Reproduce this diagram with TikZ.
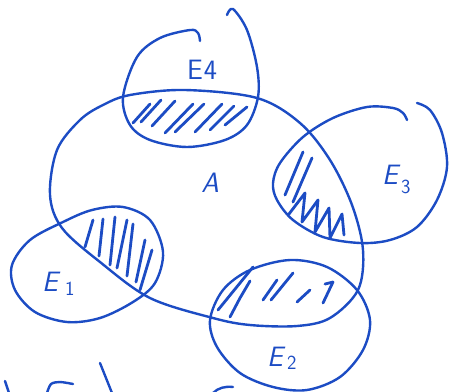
\documentclass[tikz,border=0pt]{standalone}
\usepackage{fontspec}
\definecolor{penblue}{RGB}{28,76,196}
\begin{document}
\begin{tikzpicture}[x=1pt,y=-1pt,
  ink/.style={draw=penblue, line width=2.4pt, line cap=round, line join=round},
  hatchline/.style={draw=penblue, line width=2.8pt, line cap=round, line join=round},
  lbl/.style={text=penblue, font=\sffamily\itshape\fontsize{28}{28}\selectfont, inner sep=0pt},
  sub/.style={text=penblue, font=\sffamily\fontsize{20}{20}\selectfont, inner sep=0pt}]
\fill[white] (0,0) rectangle (449,391);
\useasboundingbox (0,0) rectangle (449,391);

% big set A
\draw[ink] plot[smooth cycle, tension=0.55] coordinates {
  (50,195) (57,150) (80,120) (103,105) (130,95) (185,90) (257,98) (300,123)
  (330,160) (352,205) (363,250) (358,290) (330,318) (297,326) (250,325)
  (213,318) (150,298) (100,262) (62,228)};

% E4 (open at top)
\draw[ink] plot[smooth, tension=0.55] coordinates {
  (227,15) (233,9) (247,30) (257,67) (258,97) (247,125) (225,140) (187,147)
  (150,140) (130,125) (123,97) (137,57) (160,38) (190,30) (198,33) (200,41)};

% E3 (open at top)
\draw[ink] plot[smooth, tension=0.55] coordinates {
  (417,103) (430,110) (442,133) (447,167) (437,200) (417,227) (390,240)
  (360,243) (323,237) (293,220) (277,200) (273,183) (280,163) (303,137)
  (333,118) (367,107) (393,108) (403,113) (407,120)};

% E1
\draw[ink] plot[smooth cycle, tension=0.55] coordinates {
  (123,207) (150,220) (163,252) (155,283) (133,302) (100,318) (67,322)
  (35,312) (15,290) (12,265) (30,240) (63,222) (92,210)};

% E2
\draw[ink] plot[smooth cycle, tension=0.55] coordinates {
  (210,320) (223,290) (250,270) (290,260) (327,267) (357,290) (370,320)
  (363,350) (340,377) (307,390) (273,387) (240,373) (217,347)};

% hatching E4 and A
\foreach \a/\b/\c/\d in {133/123/150/104, 141/122/161/100, 152/126/175/101,
  165/133/193/104, 175/132/204/104, 195/132/222/104, 210/130/234/106, 225/125/247/107}
  \draw[hatchline] (\a,\b) -- (\c,\d);

% hatching E1 and A
\foreach \a/\b/\c/\d in {93/220/85/247, 103/219/99/256, 115/217/110/265,
  127/220/117/268, 133/224/127/276, 145/240/136/282, 152/250/140/290}
  \draw[hatchline] (\a,\b) -- (\c,\d);

% hatching E3 and A
\draw[hatchline] (303,152) -- (285,195);
\draw[hatchline] (312,158) -- (293,202);
\draw[hatchline] (289,214) -- (305,193) -- (302,222) -- (318,200) -- (315,232)
  -- (329,208) -- (330,238) -- (342,214) -- (344,235);

% hatching E2 and A
\draw[hatchline] (218,310) -- (253,267);
\draw[hatchline] (230,317) -- (240,298) -- (250,281);
\draw[hatchline] (263,300) -- (277,280);
\draw[hatchline] (271,300) -- (293,273);
\draw[hatchline] (297,302) -- (310,290);
\draw[hatchline] (325,284) -- (333,282) -- (323,303);

% labels
\node[lbl] (lA) at (210,183) {A};
\node[lbl, anchor=west] (lE4) at (187,70) {\upshape E\kern1pt 4};
\node[lbl, anchor=west] (lE3) at (382,175) {E};
\node[sub, anchor=west] (lE3s) at (401,187) {3};
\node[lbl, anchor=west] (lE1) at (42,282) {E};
\node[sub, anchor=west] (lE1s) at (65,289) {1};
\node[lbl, anchor=west] (lE2) at (267,357) {E};
\node[sub, anchor=west] (lE2s) at (287,363) {2};

% cut-off strokes at the bottom edge
\draw[ink] (5,381) -- (9,393);
\draw[ink] plot[smooth, tension=0.5] coordinates {(47,393) (51,384) (60,382) (73,384)};
\draw[ink] (100,363) -- (112,393);
\draw[ink] (213,393) .. controls (218,388) and (225,386) .. (233,387);
\end{tikzpicture}
\end{document}
